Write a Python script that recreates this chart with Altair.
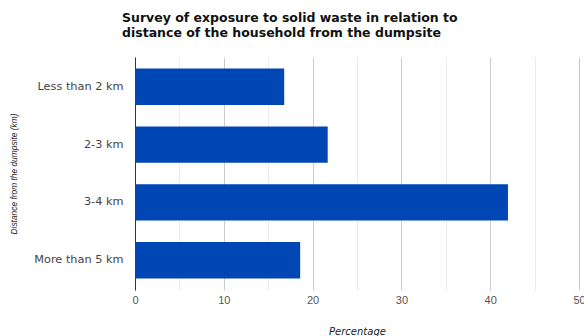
import altair as alt
import pandas as pd

categories = ["Less than 2 km", "2-3 km", "3-4 km", "More than 5 km"]
values = [16.8, 21.7, 42.0, 18.6]
x_ticks = [0, 5, 10, 15, 20, 25, 30, 35, 40, 45, 50]

df = pd.DataFrame({"cat": categories, "val": values})

chart = alt.Chart(df).mark_bar(color="#0046b4").encode(
    y=alt.Y("cat:N", sort=categories, scale=alt.Scale(paddingInner=0.37, paddingOuter=0.2),
            axis=alt.Axis(title="Distance from the dumpsite (km)", titleFontStyle="italic",
                          titleFontWeight="normal", titleFontSize=8.4, titleColor="#222",
                          titleFont="Liberation Sans", titleX=-122, titleY=116.5,
                          titleAngle=270, titleAlign="center", titleBaseline="middle",
                          labelFont="DejaVu Sans", labelFontSize=11.3, labelColor="#444",
                          labelPadding=12, ticks=False, domainColor="#333", domainWidth=1,
                          grid=False)),
    x=alt.X("val:Q", scale=alt.Scale(domain=[0, 50], nice=False),
            axis=alt.Axis(values=x_ticks, title="Percentage", titleFontStyle="italic",
                          titleFontWeight="normal", titleFontSize=10, titleColor="#222",
                          titleFont="DejaVu Sans", titleY=41, titleBaseline="middle",
                          labelFont="Liberation Sans", labelFontSize=11, labelColor="#555",
                          labelExpr="datum.value % 10 === 0 ? datum.label : ''",
                          labelPadding=4, labelFlush=False,
                          ticks=False, domain=False,
                          gridColor=alt.ExprRef("datum.value % 10 === 0 ? '#cccccc' : '#ebebeb'"),
                          gridWidth=1)),
).properties(
    width=444, height=233,
    autosize=alt.AutoSizeParams(type="none"),
    padding={"left": 135, "top": 57, "right": 5, "bottom": 46},
    title=alt.Title(["Survey of exposure to solid waste in relation to",
                     "distance of the household from the dumpsite"],
                    anchor="start", frame="group", dx=-13, offset=18, font="DejaVu Sans",
                    fontSize=12.5, fontWeight="bold", color="#111", lineHeight=15),
).configure_view(stroke=None)

chart.save("out.html", embed_options={"renderer": "svg", "actions": False})
